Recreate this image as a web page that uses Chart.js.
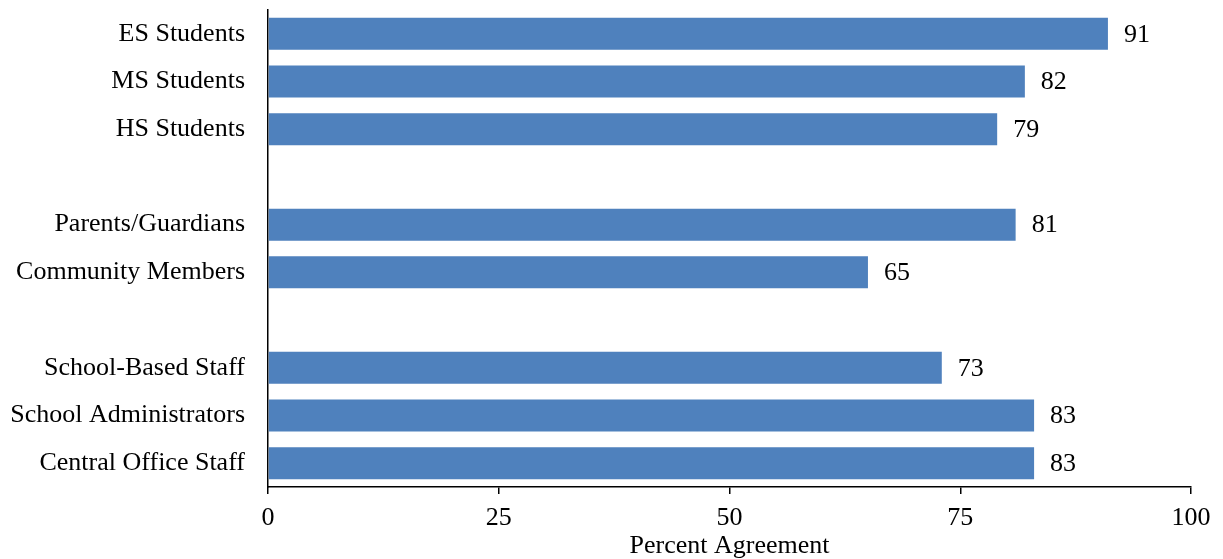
<!DOCTYPE html>
<html>
<head>
<meta charset="utf-8">
<script src="https://cdn.jsdelivr.net/npm/chart.js@4"></script>
<style>
    html, body { margin: 0; padding: 0; background: #fff; }
    #wrap { width: 1223px; height: 559px; }
</style>
</head>
<body>
<div id="wrap"><canvas id="chart"></canvas></div>
<script>
const groups = [
    'ES Students', 'MS Students', 'HS Students', '',
    'Parents/Guardians', 'Community Members', ' ',
    'School-Based Staff', 'School Administrators', 'Central Office Staff',
];
const agreement = [91, 82, 79, null, 81, 65, null, 73, 83, 83];
const xTicks = [0, 25, 50, 75, 100];

const barBlue = '#4f81bd';
const ink = '#000';
const serif = "'Liberation Serif', 'Times New Roman', serif";

Chart.defaults.font.family = serif;
Chart.defaults.color = ink;

const valueLabels = {
    id: 'valueLabels',
    afterDatasetsDraw(chart) {
        const ctx = chart.ctx;
        const meta = chart.getDatasetMeta(0);
        ctx.save();
        ctx.font = '26px ' + serif;
        ctx.fillStyle = ink;
        ctx.textAlign = 'left';
        ctx.textBaseline = 'middle';
        meta.data.forEach((bar, i) => {
            const v = agreement[i];
            if (v == null) {
                return;
            }
            ctx.fillText(String(v), bar.x + 16, bar.y + 1);
        });
        ctx.restore();
    },
};

new Chart(document.getElementById('chart'), {
    type: 'bar',
    data: {
        labels: groups,
        datasets: [
            {
                data: agreement,
                backgroundColor: barBlue,
                borderWidth: 0,
                barPercentage: 0.67,
                categoryPercentage: 1,
            },
        ],
    },
    options: {
        indexAxis: 'y',
        responsive: true,
        maintainAspectRatio: false,
        animation: false,
        layout: { padding: { top: 10, right: 32, left: 0, bottom: 0 } },
        plugins: {
            legend: { display: false },
            tooltip: { enabled: false },
        },
        scales: {
            x: {
                min: 0,
                max: 100,
                afterBuildTicks(scale) {
                    scale.ticks = xTicks.map((value) => ({ value }));
                },
                afterFit(scale) {
                    scale.height = 72;
                },
                grid: {
                    display: true,
                    drawOnChartArea: false,
                    drawTicks: true,
                    tickLength: 7,
                    color: ink,
                    lineWidth: 1.5,
                },
                border: { display: true, color: ink, width: 1.5 },
                ticks: {
                    font: { size: 26 },
                    color: ink,
                    padding: 9,
                    maxRotation: 0,
                },
                title: {
                    display: true,
                    text: 'Percent Agreement',
                    font: { size: 26 },
                    color: ink,
                    padding: { top: 0, bottom: -3 },
                },
            },
            y: {
                afterFit(scale) {
                    scale.width = 268;
                    scale.paddingTop = 0;
                    scale.paddingBottom = 0;
                },
                grid: { display: false, drawTicks: false },
                border: { display: true, color: ink, width: 1.5 },
                ticks: {
                    font: { size: 26 },
                    color: ink,
                    padding: 23,
                },
            },
        },
    },
    plugins: [valueLabels],
});
</script>
</body>
</html>
